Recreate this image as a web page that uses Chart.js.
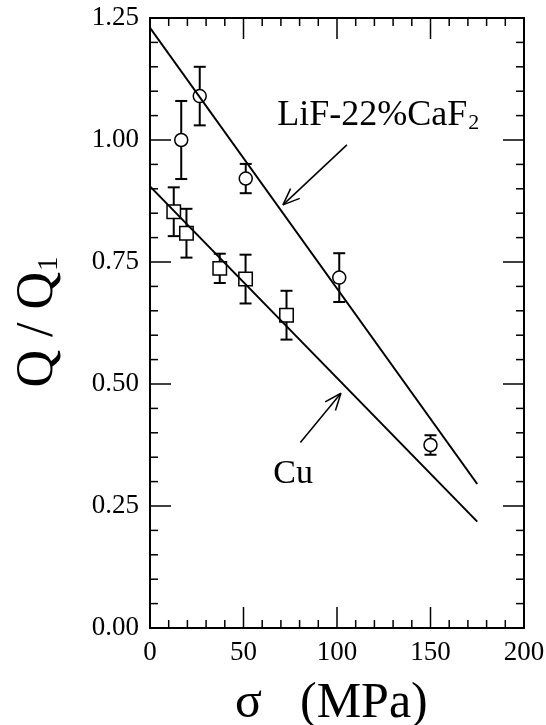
<!DOCTYPE html>
<html>
<head>
<meta charset="utf-8">
<script src="https://cdn.jsdelivr.net/npm/chart.js@4"></script>
<style>
  body { margin: 0; background: #fff; }
  #caixa { width: 546px; height: 725px; }
</style>
</head>
<body>
<div id="caixa"><canvas id="grafico"></canvas></div>
<script>
const FONTE = "'Liberation Serif', 'Times New Roman', serif";

// LiF-22%CaF2 (circulos)
const lifSigma = [16.7, 26.6, 51.2, 101.2, 150.0];
const lifQ = [1.00, 1.09, 0.921, 0.718, 0.375];
const lifErro = [0.08, 0.06, 0.03, 0.05, 0.02];

// Cu (quadrados)
const cuSigma = [12.7, 19.5, 37.3, 51.1, 73.0];
const cuQ = [0.853, 0.809, 0.737, 0.715, 0.641];
const cuErro = [0.05, 0.05, 0.03, 0.05, 0.05];

// retas ajustadas
const lifRetaSigma = [0, 175];
const lifRetaQ = [1.23, 0.295];
const cuRetaSigma = [0, 175];
const cuRetaQ = [0.905, 0.218];

const xTicks = [0, 50, 100, 150, 200];
const yTicks = [0, 0.25, 0.5, 0.75, 1.0, 1.25];

function pontos(xs, ys) {
  return xs.map((x, i) => ({ x, y: ys[i] }));
}

function linha(ctx, x1, y1, x2, y2) {
  ctx.beginPath();
  ctx.moveTo(x1, y1);
  ctx.lineTo(x2, y2);
  ctx.stroke();
}

function desenharBarras(ctx, x, y, xs, ys, erros) {
  xs.forEach((v, i) => {
    const px = x.getPixelForValue(v);
    const topo = y.getPixelForValue(ys[i] + erros[i]);
    const base = y.getPixelForValue(ys[i] - erros[i]);
    linha(ctx, px, topo, px, base);
    linha(ctx, px - 6, topo, px + 6, topo);
    linha(ctx, px - 6, base, px + 6, base);
  });
}

function seta(ctx, x, y, de, para) {
  const x1 = x.getPixelForValue(de[0]), y1 = y.getPixelForValue(de[1]);
  const x2 = x.getPixelForValue(para[0]), y2 = y.getPixelForValue(para[1]);
  const ang = Math.atan2(y1 - y2, x1 - x2);
  linha(ctx, x1, y1, x2, y2);
  linha(ctx, x2, y2, x2 + 18 * Math.cos(ang + 0.38), y2 + 18 * Math.sin(ang + 0.38));
  linha(ctx, x2, y2, x2 + 18 * Math.cos(ang - 0.38), y2 + 18 * Math.sin(ang - 0.38));
}

function textoComIndice(ctx, base, indice, px, py, tam, fator, desce) {
  ctx.font = `${tam}px ${FONTE}`;
  ctx.fillText(base, px, py);
  const w = ctx.measureText(base).width;
  ctx.font = `${Math.round(tam * fator)}px ${FONTE}`;
  ctx.fillText(indice, px + w + 1, py + desce);
}

function semFolga(escala) {
  escala.paddingLeft = 0;
  escala.paddingRight = 0;
  escala.paddingTop = 0;
  escala.paddingBottom = 0;
}

const barrasErro = {
  id: "barrasErro",
  beforeDatasetsDraw(chart) {
    const { ctx, scales: { x, y } } = chart;
    ctx.save();
    ctx.strokeStyle = "#000";
    ctx.lineWidth = 2;
    desenharBarras(ctx, x, y, lifSigma, lifQ, lifErro);
    desenharBarras(ctx, x, y, cuSigma, cuQ, cuErro);
    ctx.restore();
  }
};

const moldura = {
  id: "moldura",
  afterDraw(chart) {
    const { ctx, chartArea, scales: { x, y } } = chart;
    const { left, right, top, bottom } = chartArea;
    ctx.save();
    ctx.strokeStyle = "#000";
    ctx.fillStyle = "#000";

    ctx.lineWidth = 1.5;
    for (let v = 10; v < 200; v += 10) {
      const px = x.getPixelForValue(v);
      const len = v % 50 === 0 ? 21 : 8;
      linha(ctx, px, bottom, px, bottom - len);
      linha(ctx, px, top, px, top + len);
    }
    for (let k = 1; k < 25; k++) {
      const py = y.getPixelForValue(k * 0.05);
      const len = k % 5 === 0 ? 21 : 8;
      linha(ctx, left, py, left + len, py);
      linha(ctx, right, py, right - len, py);
    }

    ctx.lineWidth = 2;
    ctx.strokeRect(left, top, right - left, bottom - top);

    // setas
    ctx.lineWidth = 1.5;
    seta(ctx, x, y, [105.3, 0.990], [71.1, 0.867]);
    seta(ctx, x, y, [80.4, 0.380], [102.1, 0.481]);

    // rotulos
    ctx.textAlign = "left";
    ctx.textBaseline = "alphabetic";
    textoComIndice(ctx, "LiF-22%CaF", "2", x.getPixelForValue(68.1), y.getPixelForValue(1.031), 36, 0.6, 4);
    ctx.font = `34px ${FONTE}`;
    ctx.fillText("Cu", x.getPixelForValue(65.9), y.getPixelForValue(0.2965));

    // titulo do eixo x
    ctx.font = `50px ${FONTE}`;
    ctx.fillText("σ", 235, 717);
    ctx.fillText("(MPa)", 300, 717);

    // titulo do eixo y
    ctx.translate(52, 322);
    ctx.rotate(-Math.PI / 2);
    ctx.font = `52px ${FONTE}`;
    const wBase = ctx.measureText("Q / Q").width;
    ctx.font = `29px ${FONTE}`;
    const wInd = ctx.measureText("1").width;
    textoComIndice(ctx, "Q / Q", "1", -(wBase + wInd + 1) / 2, 0, 52, 0.56, 5);
    ctx.restore();
  }
};

new Chart(document.getElementById("grafico"), {
  type: "scatter",
  data: {
    datasets: [
      {
        data: pontos(lifRetaSigma, lifRetaQ),
        showLine: true,
        borderColor: "#000",
        borderWidth: 2,
        pointRadius: 0
      },
      {
        data: pontos(cuRetaSigma, cuRetaQ),
        showLine: true,
        borderColor: "#000",
        borderWidth: 2,
        pointRadius: 0
      },
      {
        data: pontos(lifSigma, lifQ),
        pointStyle: "circle",
        pointRadius: 6.5,
        borderWidth: 1.5,
        borderColor: "#000",
        backgroundColor: "#fff"
      },
      {
        data: pontos(cuSigma, cuQ),
        pointStyle: "rect",
        pointRadius: 9.5,
        borderWidth: 1.5,
        borderColor: "#000",
        backgroundColor: "#fff"
      }
    ]
  },
  options: {
    responsive: true,
    maintainAspectRatio: false,
    animation: false,
    events: [],
    layout: { padding: { left: 0, top: 18, right: 22, bottom: 0 } },
    plugins: { legend: { display: false }, tooltip: { enabled: false } },
    scales: {
      x: {
        type: "linear",
        min: 0,
        max: 200,
        afterBuildTicks: escala => { escala.ticks = xTicks.map(v => ({ value: v })); },
        afterFit: escala => { escala.height = 97; semFolga(escala); },
        grid: { display: false, drawTicks: false },
        border: { display: false },
        ticks: {
          color: "#000",
          padding: 9,
          maxRotation: 0,
          font: { family: FONTE, size: 27 }
        }
      },
      y: {
        type: "linear",
        min: 0,
        max: 1.25,
        afterBuildTicks: escala => { escala.ticks = yTicks.map(v => ({ value: v })); },
        afterFit: escala => { escala.width = 150; semFolga(escala); },
        grid: { display: false, drawTicks: false },
        border: { display: false },
        ticks: {
          color: "#000",
          padding: 11,
          font: { family: FONTE, size: 27 },
          callback: v => Number(v).toFixed(2)
        }
      }
    }
  },
  plugins: [barrasErro, moldura]
});
</script>
</body>
</html>
